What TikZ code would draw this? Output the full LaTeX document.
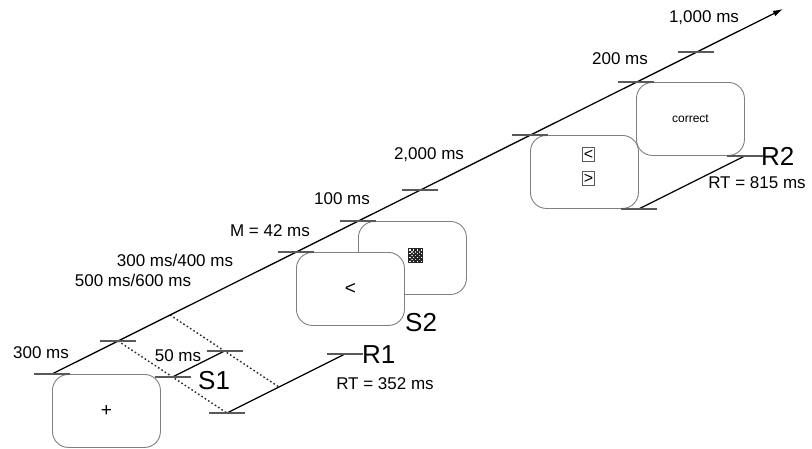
\documentclass[tikz,border=0pt]{standalone}
\usepackage{fontspec}
\setmainfont{Liberation Sans}
\usetikzlibrary{arrows.meta}
\begin{document}
\begin{tikzpicture}[x=1pt,y=-1pt,
  screen/.style={draw=black!50, line width=0.9pt, rounded corners=16pt, minimum width=108pt, minimum height=73pt, inner sep=0pt, fill=white, anchor=north west, font=\fontsize{19}{21}\selectfont},
  tickmark/.style={draw=black!65, line width=1.3pt},
  lbl/.style={inner sep=0pt, text depth=0pt, font=\fontsize{17}{20}\selectfont},
  big/.style={inner sep=0pt, text depth=0pt, font=\fontsize{26}{30}\selectfont},
  keybox/.style={draw=black!65, line width=0.9pt, minimum width=12.5pt, minimum height=14pt, inner sep=0pt, font=\fontsize{16}{17}\selectfont},
  timeline/.style={line width=1.3pt, black},
  projection/.style={dash pattern=on 1.6pt off 2.4pt, line width=1.4pt, black!85}]
\useasboundingbox (0,0) rectangle (812,448);
% points on the main time line
\coordinate (m0) at (52,374);
\coordinate (m1) at (118,341);
\coordinate (m2) at (170,315);
\coordinate (m3) at (296,252);
\coordinate (m4) at (358,221);
\coordinate (m5) at (420,190);
\coordinate (m6) at (530,135);
\coordinate (m7) at (636,82);
\coordinate (m8) at (696,52);
\coordinate (tip) at (783,9);
% response lines
\coordinate (s1a) at (172.5,377);
\coordinate (s1b) at (224.5,351);
\coordinate (r1a) at (227,413);
\coordinate (r1b) at (279,387);
\coordinate (r1c) at (345,354);
% screens
\node[screen] (fix) at (m0) {+};
\node[screen] (mask) at (m4) {};
\node[screen] (target) at (m3) {<};
\node[screen] (choice) at (m6) {};
\node[screen] (fb) at (m7) {\fontsize{12}{14}\selectfont correct};
\node[keybox] (kl) at ([shift={(4,-17.5)}]choice.center) {<};
\node[keybox] (kr) at ([shift={(4,6.5)}]choice.center) {>};
% mask pattern
\coordinate (pm) at ([shift={(3.5,-2)}]mask.center);
\fill[black!85] ([shift={(-7.5,-7.5)}]pm) rectangle ([shift={(7.5,7.5)}]pm);
\foreach \i in {0,...,3}{\foreach \j in {0,...,3}{
  \fill[white] ([shift={(-6.6+3.8*\i,-6.6+3.8*\j)}]pm) rectangle ++(1.3,1.3);}}
\foreach \i in {0,...,2}{\foreach \j in {0,...,2}{
  \fill[white!75!black] ([shift={(-4.7+3.8*\i,-4.7+3.8*\j)}]pm) rectangle ++(1.3,1.3);}}
% projections
\draw[projection] (m1) -- (r1a);
\draw[projection] (m2) -- (r1b);
% main time line
\draw[timeline,-{Latex[length=10pt,width=6pt]}] (m0) -- (tip);
% response lines
\draw[timeline] (s1a) -- (s1b);
\draw[timeline] (r1a) -- (r1c);
\draw[timeline] (choice.south east) -- (fb.south east);
% ticks
\foreach \p in {m0,m1,m3,m4,m5,m6,m7,m8,s1a,s1b,r1a,r1c,choice.south east,fb.south east}
  \draw[tickmark] ([xshift=-18pt]\p) -- ([xshift=18pt]\p);
% labels
\node[lbl] (l300) at (41,353) {300 ms};
\node[lbl] (l50) at (178,356) {50 ms};
\node[lbl] (soa1) at (175,260) {300 ms/400 ms};
\node[lbl] (soa2) at (133,280) {500 ms/600 ms};
\node[lbl] (l42) at (270,231) {M = 42 ms};
\node[lbl] (l100) at (342,199) {100 ms};
\node[lbl] (l2000) at (429,154) {2,000 ms};
\node[lbl] (l200) at (620,59) {200 ms};
\node[lbl] (l1000) at (704,17) {1,000 ms};
\node[big, anchor=west] (S1) at (198,380.5) {S1};
\node[big, anchor=west] (S2) at (405,322) {S2};
\node[big, anchor=west] (R1) at (362,355) {R1};
\node[big, anchor=west] (R2) at (761,156) {R2};
\node[lbl] (rt1) at (385,384) {RT = 352 ms};
\node[lbl] (rt2) at (757,183) {RT = 815 ms};
\end{tikzpicture}
\end{document}
